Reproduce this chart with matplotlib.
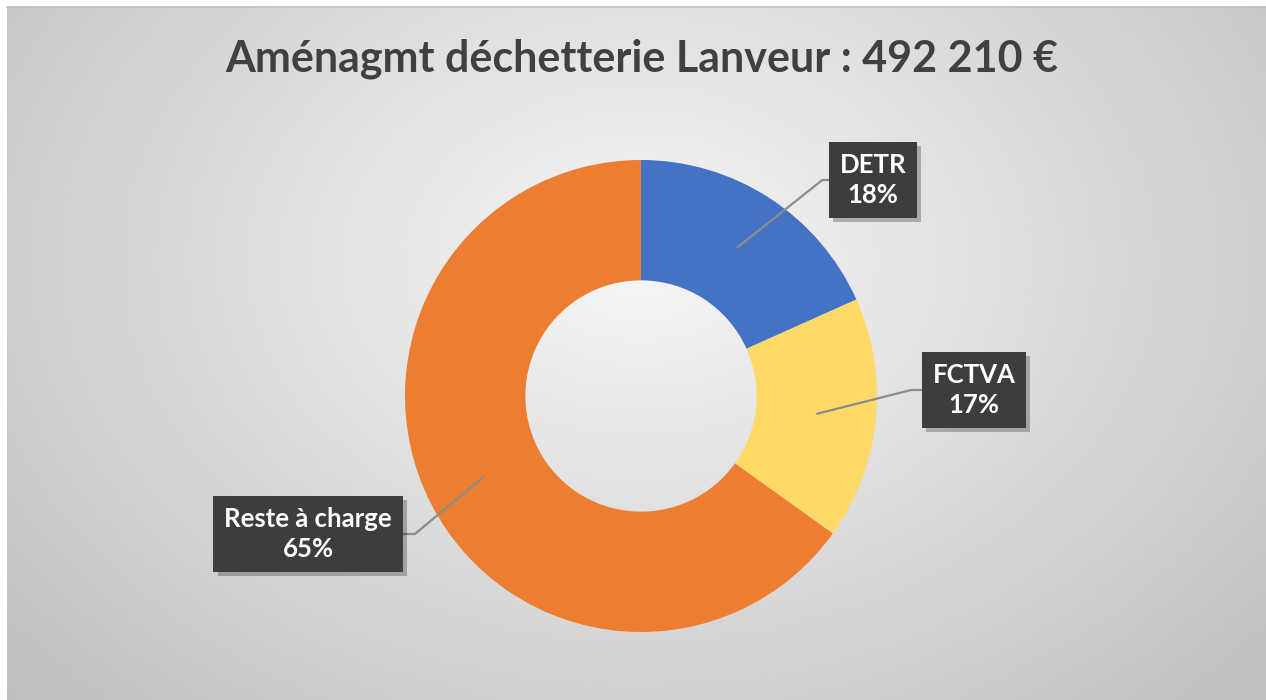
import numpy as np
import matplotlib.pyplot as plt
import matplotlib.patheffects as pe

categories = ["DETR", "FCTVA", "Reste à charge"]
shares = [18.3, 16.6, 65.1]
colors = ["#4472C4", "#FFD966", "#ED7D31"]
title = "Aménagmt déchetterie Lanveur : 492 210 €"

plt.rcParams['font.family'] = ['Lato', 'DejaVu Sans']

W, H = 1266, 700
fig = plt.figure(figsize=(W / 100, H / 100), dpi=100, facecolor="white")
ax = fig.add_axes([0, 0, 1, 1])

# 1 data unit = outer radius of the donut (236 px), centre at (641, 396) px from top-left
R = 236.0
cx, cy = 641, 396
x0, x1 = -cx / R, (W - cx) / R
y0, y1 = -(H - cy) / R, cy / R

# radial grey gradient background (chart area starts a few px in from the edge)
gx = np.linspace(7, W, 400)
gy = np.linspace(6, H, 250)
GX, GY = np.meshgrid(gx, gy)
rr = np.sqrt(((GX - 640) / 760) ** 2 + ((GY - 260) / 560) ** 2)
bg = np.clip(0.965 - 0.19 * rr, 0, 1)
ax.imshow(bg, cmap="gray", vmin=0, vmax=1, origin="upper",
          extent=[(7 - cx) / R, x1, y0, (cy - 6) / R], zorder=0,
          interpolation="bicubic", aspect="auto")
ax.plot([(7 - cx) / R, x1], [(cy - 6.5) / R] * 2, color="#c4c4c4", lw=1.2, zorder=1)

wedges, _ = ax.pie(shares, colors=colors, startangle=90, counterclock=False,
                   radius=1.0, wedgeprops=dict(width=0.51, edgecolor="none"))
for w in wedges:
    w.set_zorder(2)

ax.set_xlim(x0, x1)
ax.set_ylim(y0, y1)
ax.set_aspect("auto")
ax.axis("off")

# label box centres (px) and slope of the leader line
box_px = [(873, 180), (974, 390), (308, 534)]
leader_angle = [38.4, 14.2, 39.8]

for w, name, share, (bx, by), ang in zip(wedges, categories, shares, box_px, leader_angle):
    mid = np.deg2rad((w.theta1 + w.theta2) / 2)
    xy = (0.75 * np.cos(mid), 0.75 * np.sin(mid))
    txt = f"{name}\n{round(share)}%"
    ann = ax.annotate(txt, xy=xy, xytext=((bx - cx) / R, (cy - by) / R),
                      ha="center", va="center", color="white", fontsize=18.5,
                      fontweight="bold", linespacing=1.3, zorder=5,
                      bbox=dict(boxstyle="square,pad=0.42", fc="#3d3d3d", ec="none"),
                      arrowprops=dict(arrowstyle="-", color="#8c8c8c", lw=1.6,
                                      shrinkA=0, shrinkB=0,
                                      connectionstyle=f"angle,angleA=0,angleB={ang},rad=0"),
                      annotation_clip=False)
    ann.get_bbox_patch().set_path_effects([
        pe.SimplePatchShadow(offset=(3, -3), shadow_rgbFace="#000000", alpha=0.25),
        pe.Normal()])

fig.text(642 / W, 1 - 59 / H, title, ha="center", va="center",
         fontsize=31, fontweight="bold", color="#404040")

fig.savefig("out.png", dpi=100, facecolor="white")
